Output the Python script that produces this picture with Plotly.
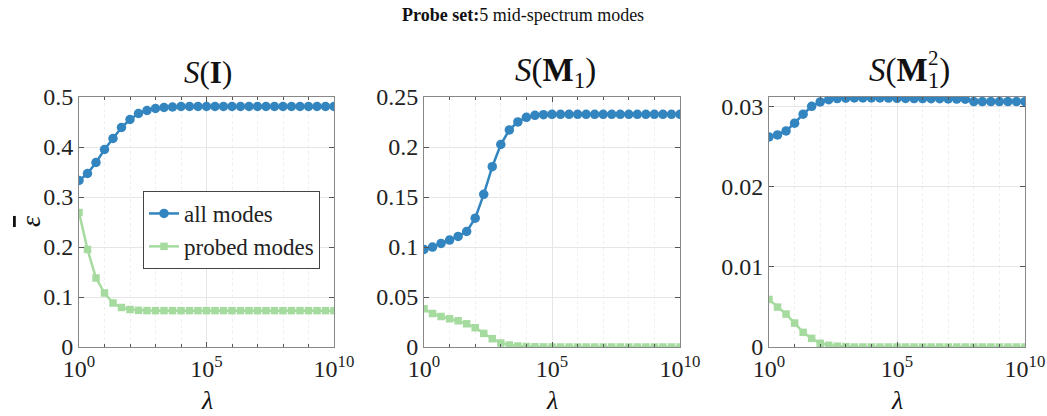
import plotly.graph_objects as go

# x grid: lambda = 10^(k/3), k = 0..30
exponents = [k / 3 for k in range(31)]
lam = [10 ** e for e in exponents]

all_I = [0.333, 0.347, 0.369, 0.395, 0.417, 0.439, 0.455, 0.467, 0.473, 0.477, 0.479,
         0.480, 0.481] + [0.481] * 18
probed_I = [0.269, 0.195, 0.138, 0.108, 0.088, 0.079, 0.075, 0.0733, 0.0728] + [0.0727] * 22

all_M1 = [0.0976, 0.0999, 0.1036, 0.1069, 0.1106, 0.1155, 0.1288, 0.1527, 0.1803, 0.2025,
          0.2171, 0.2251, 0.2297, 0.2317, 0.2323] + [0.2327] * 16
probed_M1 = [0.0382, 0.0335, 0.0305, 0.0282, 0.0262, 0.0232, 0.0193, 0.0136, 0.0083, 0.0040,
             0.0020, 0.0010, 0.0005, 0.0002, 0.0001] + [0.0] * 16

all_M12 = [0.02622, 0.02647, 0.02697, 0.02793, 0.02905, 0.03004, 0.03058, 0.03087, 0.03100,
           0.03105, 0.03108, 0.03109, 0.03109, 0.03108, 0.03107, 0.03104, 0.03102, 0.03101,
           0.03100, 0.03099, 0.03098, 0.03095, 0.03094, 0.03093] + [0.03063] * 7
probed_M12 = [0.00593, 0.00498, 0.00411, 0.00299, 0.00183, 0.00108, 0.00046, 0.00021, 0.0001,
              0.00005] + [0.0] * 21

panel_titles = ["<i>S</i>(<b>I</b>)", "<i>S</i>(<b>M</b><sub>1</sub>)",
                "<i>S</i>(<b>M</b><sub>1</sub>)"]
y_ticks = [[0, 0.1, 0.2, 0.3, 0.4, 0.5], [0, 0.05, 0.1, 0.15, 0.2, 0.25], [0, 0.01, 0.02, 0.03]]
y_ticktext = [["0", "0.1", "0.2", "0.3", "0.4", "0.5"],
              ["0", "0.05", "0.1", "0.15", "0.2", "0.25"],
              ["0", "0.01", "0.02", "0.03"]]
y_ranges = [[0, 0.5], [0, 0.25], [0, 0.0312]]
x_tickvals = [1, 1e5, 1e10]
x_ticktext = ["10<sup>0</sup>", "10<sup>5</sup>", "10<sup>10</sup>"]
x_minor = [10 ** d for d in range(11) if d not in (0, 5, 10)]
legend_names = ["all modes", "probed modes"]

BLUE = "#3385c0"
GREEN = "#a6dba0"
FONT = "Liberation Serif"
W, H = 1047, 416


def PX(x):
    return x / W


def PY(y):
    return 1 - y / H


series = [(all_I, probed_I), (all_M1, probed_M1), (all_M12, probed_M12)]
x_dom_px = [(79, 334), (424, 680), (769, 1025)]
title_cx = [208, 555, 909]
title_size = [31, 33, 33]
y_dom = [PY(347), PY(97)]

fig = go.Figure()
for i, (a, p) in enumerate(series):
    xa = "x" if i == 0 else f"x{i+1}"
    ya = "y" if i == 0 else f"y{i+1}"
    fig.add_trace(go.Scatter(x=lam, y=a, mode="lines+markers", name=legend_names[0],
                             line=dict(color=BLUE, width=2.5),
                             marker=dict(symbol="circle", size=9.5, color=BLUE),
                             xaxis=xa, yaxis=ya, showlegend=(i == 0)))
    fig.add_trace(go.Scatter(x=lam, y=p, mode="lines+markers", name=legend_names[1],
                             line=dict(color=GREEN, width=2.5),
                             marker=dict(symbol="square", size=7.5, color=GREEN),
                             xaxis=xa, yaxis=ya, showlegend=(i == 0)))

layout = dict(width=W, height=H, margin=dict(l=0, r=0, t=0, b=0),
              paper_bgcolor="white", plot_bgcolor="white",
              font=dict(family=FONT, color="#222222"),
              legend=dict(x=PX(143), y=PY(191), xanchor="left", yanchor="top",
                          bgcolor="white", bordercolor="#444444", borderwidth=1,
                          font=dict(family=FONT, size=23, color="#222222"),
                          tracegroupgap=0, itemwidth=30))
annotations = []
for i in range(3):
    xk = "xaxis" if i == 0 else f"xaxis{i+1}"
    yk = "yaxis" if i == 0 else f"yaxis{i+1}"
    xa = "x" if i == 0 else f"x{i+1}"
    ya = "y" if i == 0 else f"y{i+1}"
    x0, x1 = x_dom_px[i]
    layout[xk] = dict(type="log", domain=[PX(x0), PX(x1)], anchor=ya, range=[0, 10],
                      tickvals=x_tickvals, ticktext=x_ticktext, ticks="inside", ticklen=5,
                      tickcolor="#555555", showline=True, linecolor="#888888", linewidth=1,
                      mirror="ticks", showgrid=True, gridcolor="#e6e6e6", gridwidth=1,
                      zeroline=False, automargin=False,
                      tickfont=dict(family=FONT, size=24, color="#222222"),
                      minor=dict(tickvals=x_minor, ticks="inside", ticklen=3,
                                 tickcolor="#555555", showgrid=True,
                                 gridcolor="#efefef", griddash="dot", gridwidth=1))
    layout[yk] = dict(domain=y_dom, anchor=xa, range=y_ranges[i], tickvals=y_ticks[i],
                      ticktext=y_ticktext[i], ticks="inside", ticklen=5, tickcolor="#555555",
                      showline=True, linecolor="#888888", linewidth=1, mirror="ticks",
                      showgrid=True, gridcolor="#e6e6e6", gridwidth=1, zeroline=False,
                      automargin=False,
                      tickfont=dict(family=FONT, size=24, color="#222222"))
    annotations.append(dict(text=panel_titles[i], x=PX(title_cx[i]), y=PY(72), xref="paper",
                            yref="paper", showarrow=False, xanchor="center", yanchor="middle",
                            font=dict(family=FONT, size=title_size[i], color="#111111")))
    cx = (x0 + x1) / 2
    annotations.append(dict(text="<i>λ</i>", x=PX(cx), y=PY(400), xref="paper", yref="paper",
                            showarrow=False, xanchor="center", yanchor="middle",
                            font=dict(family=FONT, size=26, color="#111111")))

# stacked superscript "2" over the subscript of the third panel title
annotations.append(dict(text="2", x=PX(933), y=PY(58), xref="paper", yref="paper",
                        showarrow=False, xanchor="center", yanchor="middle",
                        font=dict(family=FONT, size=21, color="#111111")))
annotations.append(dict(text="<b>Probe set:</b>5 mid-spectrum modes", x=PX(523), y=PY(15),
                        xref="paper", yref="paper", showarrow=False, xanchor="center",
                        yanchor="middle", font=dict(family=FONT, size=18, color="#111111")))
annotations.append(dict(text="<span style='text-decoration:overline'><i>ε</i></span>",
                        x=PX(30), y=PY(222), xref="paper", yref="paper",
                        showarrow=False, xanchor="center", yanchor="middle", textangle=-90,
                        font=dict(family=FONT, size=28, color="#111111")))
layout["annotations"] = annotations
fig.update_layout(**layout)
fig.write_html("out.html", config={"displayModeBar": False},
               post_script="document.body.style.margin='0';document.body.style.overflow='hidden';")
